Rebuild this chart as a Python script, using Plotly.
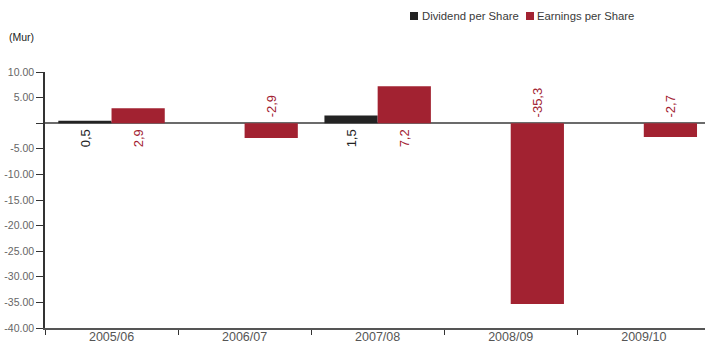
import plotly.graph_objects as go

# Per-share figures by financial year (Mur)
years = ["2005/06", "2006/07", "2007/08", "2008/09", "2009/10"]
dividend_per_share = [0.5, None, 1.5, None, None]
earnings_per_share = [2.9, -2.9, 7.2, -35.3, -2.7]
series_names = ["Dividend per Share", "Earnings per Share"]
y_tick_values = [10, 5, 0, -5, -10, -15, -20, -25, -30, -35, -40]
y_tick_labels = ["10.00", "5.00", "", "-5.00", "-10.00", "-15.00", "-20.00",
                 "-25.00", "-30.00", "-35.00", "-40.00"]

DIV_COLOR = "#232323"
EPS_COLOR = "#a22231"
FONT = "Liberation Sans, Arial, Helvetica, sans-serif"

W, H = 705, 345
ML, MR, MT, MB = 45, 0, 72, 17
PW, PH = W - ML - MR, H - MT - MB


def px_x(px):
    """Pixel column -> paper x fraction."""
    return (px - ML) / PW


def px_y(py):
    """Pixel row -> paper y fraction."""
    return 1 + (MT - py) / PH


fig = go.Figure()
fig.add_trace(go.Bar(x=years, y=dividend_per_share, name=series_names[0],
                     marker=dict(color=DIV_COLOR, line=dict(width=0))))
fig.add_trace(go.Bar(x=years, y=earnings_per_share, name=series_names[1],
                     marker=dict(color=EPS_COLOR, line=dict(width=0))))


def fmt(v):
    return f"{v:.1f}".replace(".", ",")


# Rotated value labels sitting on the zero line, offset to each bar of the pair
BAR_OFFSET = 26.5
annotations = []
for series, color, shift in ((dividend_per_share, DIV_COLOR, -BAR_OFFSET),
                             (earnings_per_share, EPS_COLOR, BAR_OFFSET)):
    for cat, v in zip(years, series):
        if v is None:
            continue
        positive = v >= 0
        annotations.append(dict(
            x=cat, y=0, xref="x", yref="y", text=fmt(v), showarrow=False,
            textangle=-90, xshift=shift,
            yanchor="top" if positive else "bottom",
            yshift=-4 if positive else 4,
            font=dict(family=FONT, size=13, color=color)))

annotations.append(dict(
    x=px_x(7), y=px_y(37), xref="paper", yref="paper", text="(Mur)",
    showarrow=False, xanchor="left", yanchor="middle",
    font=dict(family=FONT, size=10.5, color="#222222")))

# Compact legend: colour swatch followed closely by its label
shapes = []
legend_items = [(410, 421, DIV_COLOR, series_names[0]),
                (526, 536, EPS_COLOR, series_names[1])]
for sx, tx, color, name in legend_items:
    shapes.append(dict(type="rect", xref="paper", yref="paper",
                       x0=px_x(sx), x1=px_x(sx + 8), y0=px_y(20), y1=px_y(12),
                       fillcolor=color, line=dict(width=0), layer="above"))
    annotations.append(dict(
        x=px_x(tx - 1), y=px_y(16), xref="paper", yref="paper", text=name,
        showarrow=False, xanchor="left", yanchor="middle",
        font=dict(family=FONT, size=11.3, color="#3a3a3a")))

fig.update_layout(
    width=W, height=H,
    margin=dict(l=ML, r=MR, t=MT, b=MB, autoexpand=False),
    paper_bgcolor="white", plot_bgcolor="white",
    barmode="group", bargap=0.2, bargroupgap=0,
    font=dict(family=FONT, size=11, color="#555555"),
    showlegend=False,
    annotations=annotations,
    shapes=shapes,
)

fig.update_xaxes(
    type="category", range=[-0.5, 4.46], tickson="boundaries",
    ticks="outside", ticklen=5, tickcolor="#333333", tickwidth=1,
    ticklabelstandoff=-4,
    showline=True, linecolor="#555555", linewidth=1.5,
    showgrid=False, zeroline=False,
    tickfont=dict(family=FONT, size=12.5, color="#555555"),
)
fig.update_yaxes(
    range=[-40, 10], tickmode="array", tickvals=y_tick_values,
    ticktext=y_tick_labels, ticks="outside", ticklen=7,
    tickcolor="#333333", tickwidth=1,
    showline=True, linecolor="#333333", linewidth=1.5,
    showgrid=False, zeroline=True, zerolinecolor="#6b6b6b", zerolinewidth=1.5,
    tickfont=dict(family=FONT, size=10.5, color="#666666"),
)

fig.write_html("out.html")
